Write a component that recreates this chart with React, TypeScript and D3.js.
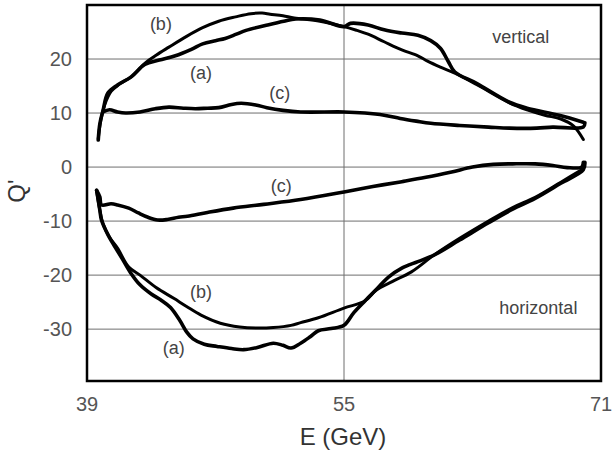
import * as d3 from "d3";
import { useEffect, useRef } from "react";

type Pt = [number, number];

// E (GeV), Q' pairs
const vertA: Pt[] = [
  [39.7, 5.0], [39.8, 8.0], [40.0, 10.5], [40.3, 13.7], [40.9, 15.2], [41.75, 16.7],
  [42.6, 19.0], [43.5, 19.8], [44.5, 20.6], [45.5, 21.8], [46.2, 22.8], [47.0, 23.4],
  [47.6, 23.8], [48.3, 24.6], [48.9, 25.3], [50.1, 26.2], [51.25, 27.0], [52.0, 27.4],
  [53.5, 27.2], [55.0, 26.0], [55.4, 26.6], [56.5, 26.3], [57.5, 25.4], [58.6, 24.8],
  [59.6, 24.4], [60.4, 23.4], [61.0, 22.0], [61.5, 19.5], [61.9, 17.6], [63.25, 15.5],
  [65.3, 12.0], [66.4, 10.9], [68.4, 9.6], [69.9, 8.3],
];
const vertB: Pt[] = [
  [39.7, 5.2], [39.85, 8.5], [40.1, 11.5], [40.5, 14.0], [41.0, 15.3], [41.8, 16.8],
  [42.6, 19.2], [43.3, 20.7], [44.1, 22.2], [45.2, 24.2], [46.2, 25.8], [47.2, 27.0],
  [48.25, 27.8], [49.2, 28.4], [49.9, 28.5], [50.4, 28.3], [51.2, 28.0], [51.9, 27.6],
  [53.5, 27.0], [55.0, 26.0], [55.8, 25.3], [56.5, 24.6], [57.5, 23.2], [58.6, 21.7],
  [59.6, 20.6], [60.2, 19.6], [61.0, 18.5], [61.9, 17.4], [63.25, 15.3], [65.3, 11.9],
  [66.4, 10.6], [67.5, 9.6], [68.5, 8.9], [69.3, 7.6], [69.9, 5.1],
];
const vertC: Pt[] = [
  [40.0, 10.2], [40.4, 10.6], [40.9, 10.2], [41.4, 10.0], [42.3, 10.2], [43.25, 10.8],
  [44.1, 11.1], [45.0, 10.9], [45.75, 10.8], [46.5, 10.9], [47.2, 11.0], [48.0, 11.6],
  [48.6, 11.8], [49.5, 11.5], [50.2, 11.0], [51.2, 10.5], [52.3, 10.2], [55.0, 10.2],
  [56.3, 10.0], [57.5, 9.6], [58.5, 9.0], [59.5, 8.5], [60.4, 8.1], [62.2, 7.7],
  [64.0, 7.4], [65.3, 7.2], [67.0, 7.2], [68.0, 7.4], [69.9, 7.4], [70.0, 8.2],
];
const horA: Pt[] = [
  [39.6, -4.3], [39.8, -8.0], [39.9, -9.8], [40.3, -12.5], [40.75, -14.8], [41.2, -17.0],
  [41.7, -19.5], [42.3, -21.8], [43.0, -23.5], [43.6, -24.6], [44.2, -26.0], [44.8, -28.5],
  [45.2, -30.5], [45.6, -31.8], [46.3, -32.8], [47.1, -33.2], [48.0, -33.6], [48.75, -33.8],
  [49.6, -33.4], [50.6, -32.6], [51.2, -33.0], [51.7, -33.5], [52.3, -32.6], [52.9, -31.4],
  [53.4, -30.3], [54.2, -29.9], [55.0, -29.3], [55.6, -27.0], [56.3, -24.8], [57.1, -22.4],
  [57.75, -20.4], [58.6, -18.7], [59.6, -17.5], [60.6, -16.3], [62.2, -13.5], [64.0, -10.3],
  [65.5, -7.8], [66.9, -5.8], [68.5, -3.0], [69.9, -0.5], [70.0, 0.9],
];
const horB: Pt[] = [
  [39.6, -4.5], [39.8, -8.0], [40.0, -10.5], [40.4, -13.0], [40.9, -15.0], [41.6, -18.5],
  [42.3, -20.0], [43.3, -22.3], [44.4, -24.3], [45.2, -25.8], [46.1, -27.4], [47.3, -28.9],
  [48.5, -29.6], [49.6, -29.8], [50.6, -29.7], [51.7, -29.3], [52.3, -28.8], [53.4, -27.9],
  [55.0, -26.1], [56.3, -24.8], [57.0, -22.8], [58.0, -21.2], [59.2, -19.4], [60.6, -16.3],
  [62.2, -13.2], [64.0, -10.0], [65.5, -7.5], [66.9, -5.6], [68.5, -2.8], [69.9, -0.3],
];
const horC: Pt[] = [
  [39.6, -4.3], [39.8, -5.5], [39.9, -7.0], [40.5, -6.8], [40.9, -7.0], [41.6, -7.6],
  [42.2, -8.5], [42.8, -9.3], [43.4, -9.8], [44.0, -9.7], [44.7, -9.3], [45.25, -9.1],
  [46.5, -8.4], [48.1, -7.6], [50.0, -6.9], [52.3, -6.0], [55.0, -4.6], [56.8, -3.6],
  [58.6, -2.7], [60.1, -1.9], [61.7, -0.9], [63.0, 0.0], [64.3, 0.5], [65.5, 0.6],
  [66.9, 0.6], [68.0, 0.3], [68.9, -0.1], [69.8, 0.0], [69.9, 0.9],
];

const xTicks = [39, 55, 71];
const yTicks = [20, 10, 0, -10, -20, -30];
const xGrid = [55];

// curve labels: [E, Q', text]
const curveLabels: [number, number, string][] = [
  [43.6, 26.5, "(b)"],
  [46.1, 17.5, "(a)"],
  [51.0, 13.8, "(c)"],
  [51.1, -3.5, "(c)"],
  [46.1, -23.2, "(b)"],
  [44.4, -33.5, "(a)"],
];
const panelLabels: [number, number, string][] = [
  [66.0, 24.0, "vertical"],
  [67.1, -26.0, "horizontal"],
];

const W = 613;
const H = 455;
const font = "'Liberation Sans', Arial, sans-serif";

function App() {
  const ref = useRef<SVGSVGElement>(null);

  useEffect(() => {
    const svg = d3.select(ref.current);
    svg.selectAll("*").remove();

    const x = d3.scaleLinear().domain([39, 71]).range([87, 601]);
    const y = d3.scaleLinear().domain([30, -39.6]).range([5, 381]);
    const [x0, x1] = x.range();
    const [y0, y1] = y.range();

    svg.append("rect").attr("width", W).attr("height", H).attr("fill", "white");

    const grid = svg.append("g").attr("stroke", "#6e6e6e").attr("stroke-width", 1);
    yTicks.forEach((t) => {
      grid.append("line")
        .attr("x1", x0).attr("x2", x1)
        .attr("y1", y(t)).attr("y2", y(t));
    });
    xGrid.forEach((t) => {
      grid.append("line")
        .attr("x1", x(t)).attr("x2", x(t))
        .attr("y1", y0).attr("y2", y1);
    });

    svg.append("clipPath").attr("id", "plotclip")
      .append("rect")
      .attr("x", x0).attr("y", y0)
      .attr("width", x1 - x0).attr("height", y1 - y0);

    const line = d3.line<Pt>()
      .x((d) => x(d[0]))
      .y((d) => y(d[1]))
      .curve(d3.curveCatmullRom.alpha(0.5));

    const curves = svg.append("g").attr("clip-path", "url(#plotclip)")
      .attr("fill", "none").attr("stroke", "#000")
      .attr("stroke-linejoin", "round").attr("stroke-linecap", "round");

    [vertC, horC, vertA, horA].forEach((d) => {
      curves.append("path").attr("d", line(d)).attr("stroke-width", 3.6);
    });
    [vertB, horB].forEach((d) => {
      curves.append("path").attr("d", line(d)).attr("stroke-width", 3);
    });

    // frame
    svg.append("rect")
      .attr("x", x0).attr("y", y0)
      .attr("width", x1 - x0).attr("height", y1 - y0)
      .attr("fill", "none").attr("stroke", "#000").attr("stroke-width", 2.5);

    const txt = svg.append("g").attr("font-family", font);

    yTicks.forEach((t) => {
      txt.append("text")
        .attr("x", 72).attr("y", y(t))
        .attr("text-anchor", "end").attr("dominant-baseline", "central")
        .attr("font-size", 20).attr("fill", "#555")
        .text(t);
    });
    xTicks.forEach((t) => {
      txt.append("text")
        .attr("x", x(t)).attr("y", 404)
        .attr("text-anchor", "middle").attr("dominant-baseline", "central")
        .attr("font-size", 20).attr("fill", "#555")
        .text(t);
    });

    txt.append("text")
      .attr("x", 343).attr("y", 436)
      .attr("text-anchor", "middle").attr("dominant-baseline", "central")
      .attr("font-size", 24).attr("fill", "#333")
      .text("E (GeV)");

    txt.append("text")
      .attr("transform", "translate(16,191) rotate(-90)")
      .attr("text-anchor", "middle").attr("dominant-baseline", "central")
      .attr("font-size", 24).attr("fill", "#333")
      .text("Q'");

    curveLabels.forEach(([e, q, s]) => {
      txt.append("text")
        .attr("x", x(e)).attr("y", y(q))
        .attr("text-anchor", "middle").attr("dominant-baseline", "central")
        .attr("font-size", 18).attr("fill", "#444")
        .text(s);
    });
    panelLabels.forEach(([e, q, s]) => {
      txt.append("text")
        .attr("x", x(e)).attr("y", y(q))
        .attr("text-anchor", "middle").attr("dominant-baseline", "central")
        .attr("font-size", 18).attr("fill", "#444")
        .text(s);
    });
  });

  return (
    <svg
      ref={ref}
      width={W}
      height={H}
      style={{ position: "absolute", left: 0, top: 0, display: "block" }}
    />
  );
}

export default App;
